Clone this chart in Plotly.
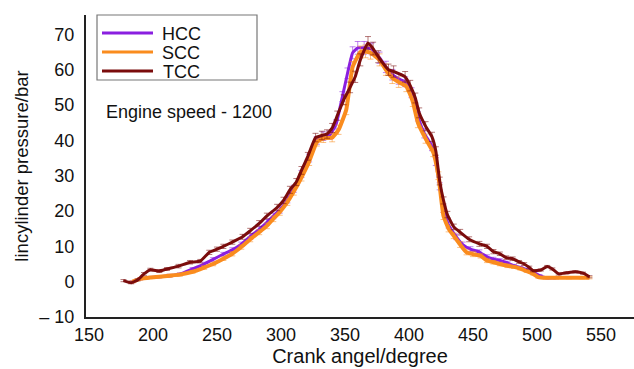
import plotly.graph_objects as go

# ---- data ----
tcc_x = [177, 183, 188, 193, 198, 205, 211, 220, 229, 237, 244, 250, 255, 262, 270, 276, 283, 289, 297,
         302, 307, 312, 316, 321, 327, 332, 336, 340, 344, 349, 354, 358, 362, 368, 372, 376, 384, 388,
         397, 401, 405, 408, 413, 418, 421, 424, 427, 430, 435, 440, 447, 455, 461, 466, 471, 476, 481,
         486, 490, 494, 497, 503, 508, 512, 517, 523, 530, 536, 541]
tcc_y = [0.3, -0.3, 0.5, 2.2, 3.4, 3.0, 3.6, 4.4, 5.5, 5.8, 8.3, 9.2, 10.0, 11.2, 12.7, 14.4, 16.5, 18.6,
         21.0, 23.0, 26.0, 28.2, 31.5, 35.5, 40.8, 41.4, 41.8, 43.5, 47.0, 51.5, 55.0, 58.0, 62.8, 67.6,
         66.0, 63.7, 60.0, 59.5, 58.0, 55.5, 52.0, 47.8, 44.0, 41.0, 37.0, 28.5, 23.0, 19.0, 15.5, 14.0,
         12.0, 10.7, 10.0, 8.5, 7.9, 6.8, 6.5, 5.6, 5.0, 4.0, 3.1, 3.3, 4.3, 3.6, 2.2, 2.5, 2.8, 2.4, 1.4]
tcc_err = [0.3, 0.3, 0.3, 0.4, 0.4, 0.4, 0.4, 0.5, 0.5, 0.5, 0.6, 0.6, 0.6, 0.6, 0.7, 0.7, 0.8, 0.8, 0.9,
           0.9, 1.0, 1.0, 1.1, 1.1, 1.2, 1.2, 1.2, 1.3, 1.3, 1.4, 1.5, 1.6, 1.7, 1.8, 1.8, 1.7, 1.6, 1.6,
           1.5, 1.5, 1.4, 1.4, 1.3, 1.3, 1.2, 1.1, 1.0, 0.9, 0.8, 0.8, 0.7, 0.7, 0.6, 0.6, 0.5, 0.5, 0.5,
           0.4, 0.4, 0.4, 0.3, 0.3, 0.3, 0.3, 0.3, 0.3, 0.3, 0.3, 0.3]

scc_x = [184, 190, 198, 205, 213, 221, 231, 240, 247, 255, 262, 269, 276, 283, 289, 294, 299, 305, 310,
         316, 322, 328, 333, 340, 345, 351, 356, 362, 366, 370, 377, 382, 387, 392, 398, 403, 407, 413,
         419, 423, 427, 431, 435, 440, 445, 450, 456, 461, 466, 471, 477, 482, 487, 492, 497, 501, 507,
         515, 525, 535, 541]
scc_y = [0.0, 0.8, 1.2, 1.4, 1.7, 2.0, 2.8, 4.0, 5.0, 6.5, 7.9, 9.8, 12.0, 14.0, 15.8, 17.8, 19.7, 22.5,
         25.5, 29.5, 34.0, 39.5, 40.6, 40.8, 43.0, 48.7, 60.8, 65.0, 65.2, 64.8, 62.8, 60.0, 57.7, 56.5,
         55.3, 51.0, 45.0, 40.5, 36.6, 30.0, 18.6, 15.0, 13.0, 10.5, 8.3, 7.8, 7.3, 6.0, 5.5, 5.0, 4.5,
         4.2, 3.7, 3.0, 2.2, 1.3, 1.1, 1.1, 1.1, 1.1, 1.1]
scc_err = [0.3, 0.3, 0.3, 0.3, 0.4, 0.4, 0.4, 0.5, 0.5, 0.5, 0.6, 0.6, 0.7, 0.7, 0.8, 0.8, 0.9, 0.9, 1.0,
           1.0, 1.1, 1.1, 1.2, 1.2, 1.3, 1.4, 1.5, 1.7, 1.8, 1.8, 1.7, 1.6, 1.6, 1.5, 1.5, 1.4, 1.4, 1.3,
           1.2, 1.1, 1.0, 0.9, 0.8, 0.8, 0.7, 0.7, 0.6, 0.6, 0.5, 0.5, 0.5, 0.4, 0.4, 0.4, 0.3, 0.3, 0.3,
           0.3, 0.3, 0.3, 0.3]

hcc_x = [184, 190, 198, 205, 213, 221, 231, 240, 247, 255, 262, 269, 276, 283, 289, 294, 299, 305, 310,
         316, 322, 328, 333, 338, 343, 348, 352, 356, 360, 365, 371, 377, 382, 387, 392, 397, 402, 407,
         412, 418, 421, 424, 427, 431, 437, 442, 448, 455, 461, 466, 471, 477, 482, 487, 492, 497, 502,
         507, 515]
hcc_y = [0.0, 0.8, 1.2, 1.4, 1.7, 2.1, 3.6, 5.0, 6.3, 7.8, 9.0, 10.6, 12.8, 14.8, 16.8, 18.6, 20.3, 23.2,
         26.3, 30.5, 35.0, 40.0, 41.2, 41.5, 44.5, 52.4, 59.0, 64.8, 66.2, 66.2, 65.9, 63.4, 60.8, 58.6,
         57.4, 56.6, 53.5, 46.8, 42.0, 38.3, 34.0, 27.0, 20.5, 16.0, 12.7, 10.5, 9.2, 8.4, 7.0, 6.4, 6.0,
         5.3, 4.5, 4.0, 3.4, 2.8, 1.7, 1.1, 1.1]
hcc_err = [0.3, 0.3, 0.3, 0.3, 0.4, 0.4, 0.4, 0.5, 0.5, 0.5, 0.6, 0.6, 0.7, 0.7, 0.8, 0.8, 0.9, 0.9, 1.0,
           1.0, 1.1, 1.1, 1.2, 1.2, 1.3, 1.4, 1.5, 1.7, 1.8, 1.8, 1.7, 1.6, 1.6, 1.5, 1.5, 1.4, 1.4, 1.3,
           1.3, 1.2, 1.1, 1.0, 0.9, 0.8, 0.8, 0.7, 0.7, 0.6, 0.6, 0.5, 0.5, 0.5, 0.4, 0.4, 0.4, 0.3, 0.3,
           0.3, 0.3]

series_names = ["HCC", "SCC", "TCC"]
y_tickvals = [-10, 0, 10, 20, 30, 40, 50, 60, 70]
y_ticktext = ["\u2013 10", "0", "10", "20", "30", "40", "50", "60", "70"]
x_tickvals = [150, 200, 250, 300, 350, 400, 450, 500, 550]

FONT = "Liberation Sans, Arial, Helvetica, sans-serif"
TXT = "#111111"

series = [
    (series_names[0], hcc_x, hcc_y, hcc_err, "#8A1FE0", "rgba(138,31,224,0.55)", 3),
    (series_names[1], scc_x, scc_y, scc_err, "#FA8C1E", "rgba(250,140,30,0.55)", 4),
    (series_names[2], tcc_x, tcc_y, tcc_err, "#7A0C0C", "rgba(122,12,12,0.55)", 3),
]

fig = go.Figure()
for name, xs, ys, es, col, ecol, w in series:
    fig.add_trace(go.Scatter(
        x=xs, y=ys, name=name, mode="lines", showlegend=False,
        line=dict(color=col, width=w, shape="spline", smoothing=0.4),
        error_y=dict(type="data", array=es, visible=True, color=ecol, thickness=1, width=3),
    ))

W, H = 634, 369
L, R, T, B = 86, 0, 15, 52
pw, ph = W - L - R, H - T - B

def px_x(p):
    return (p - L) / pw

def px_y(p):
    return 1 - (p - T) / ph

# legend drawn as a boxed key (lines + labels)
shapes = [dict(type="rect", xref="paper", yref="paper",
               x0=px_x(97), x1=px_x(257), y0=px_y(80), y1=px_y(15),
               line=dict(color="#777777", width=1.2), fillcolor="white", layer="above")]
annotations = []
legend_rows = [33, 52, 71]
for (name, _, _, _, col, _, _), ry in zip(series, legend_rows):
    shapes.append(dict(type="line", xref="paper", yref="paper",
                       x0=px_x(102), x1=px_x(153), y0=px_y(ry), y1=px_y(ry),
                       line=dict(color=col, width=3), layer="above"))
    annotations.append(dict(text=name, xref="paper", yref="paper",
                            x=px_x(181), y=px_y(ry + 1), xanchor="center", yanchor="middle",
                            showarrow=False, font=dict(size=18, family=FONT, color=TXT)))

annotations.append(dict(text="Engine speed - 1200", xref="paper", yref="paper",
                        x=px_x(104), y=px_y(112), xanchor="left", yanchor="middle",
                        showarrow=False, font=dict(size=18, family=FONT, color=TXT)))

fig.update_layout(
    width=W, height=H,
    margin=dict(l=L, r=R, t=T, b=B, pad=0),
    paper_bgcolor="white", plot_bgcolor="white",
    font=dict(family=FONT, size=18, color=TXT),
    showlegend=False,
    xaxis=dict(
        range=[147.7, 575.8], tickmode="array", tickvals=x_tickvals,
        showgrid=False, zeroline=False, showline=True, linecolor="#222", linewidth=2,
        ticks="", tickfont=dict(size=18, family=FONT, color=TXT),
        title=dict(text="Crank angel/degree", font=dict(size=20, family=FONT, color=TXT), standoff=4),
    ),
    yaxis=dict(
        range=[-10, 75.5], tickmode="array", tickvals=y_tickvals, ticktext=y_ticktext,
        showgrid=False, zeroline=False, showline=True, linecolor="#222", linewidth=2,
        ticks="", ticklabelstandoff=6, tickfont=dict(size=18, family=FONT, color=TXT),
        title=dict(text="lincylinder pressure/bar", font=dict(size=18.5, family=FONT, color=TXT), standoff=6),
    ),
    shapes=shapes,
    annotations=annotations,
)

fig.write_html("out.html")
